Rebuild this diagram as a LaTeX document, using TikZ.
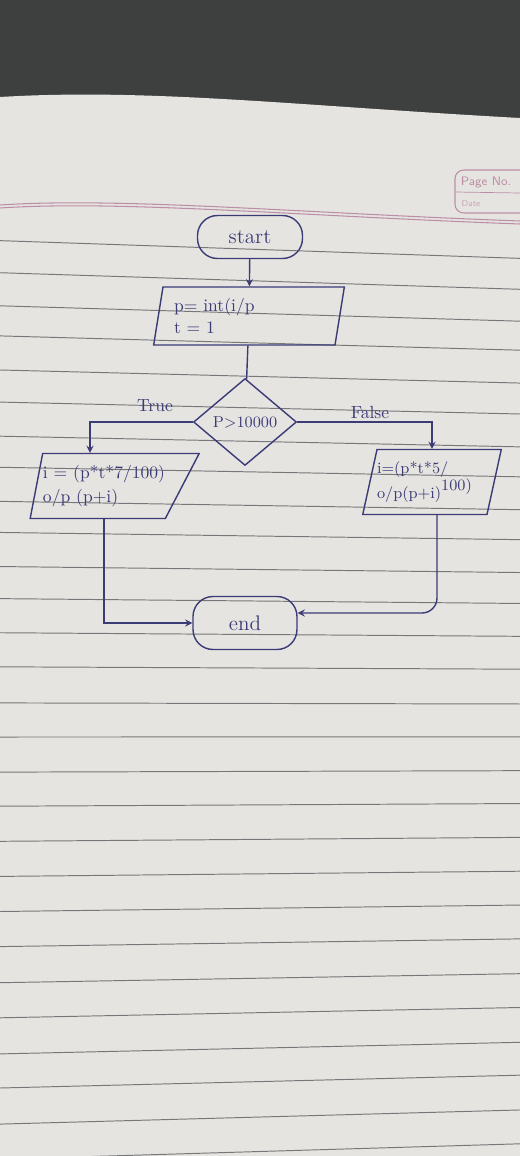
\documentclass[tikz,border=0pt]{standalone}
\usepackage{fontspec}
\usetikzlibrary{shapes.geometric,arrows}

\definecolor{ink}{HTML}{3B3B76}
\definecolor{paper}{HTML}{E6E4E1}
\definecolor{desk}{HTML}{3E4040}
\definecolor{ruling}{HTML}{77777A}
\definecolor{margin}{HTML}{BC8EA6}

\begin{document}
\begin{tikzpicture}[x=0.02cm, y=-0.02cm]

\useasboundingbox (0,0) rectangle (520,1156);

% the page
\fill[desk] (0,0) rectangle (520,1156);
\fill[paper] (0,97) .. controls (150,88) and (300,106) .. (520,118) -- (520,1156) -- (0,1156) -- cycle;

\foreach \l in {242, 274, 307, 337, 371, 403, 437, 468, 502, 533, 567, 599, 633, 667, 703, 737, 772, 806, 841, 876, 911, 946, 982, 1017, 1053, 1087, 1123, 1158}{
  \pgfmathsetmacro\s{15-(\l-242)*0.0306}
  \draw[ruling, line width=0.55pt] (0,{\l-\s*0.091}) -- (520,{\l+\s*1.091});
}

\draw[margin, line width=0.6pt] (0,205) .. controls (120,197) and (300,213) .. (520,221);
\draw[margin, line width=0.6pt] (0,208) .. controls (120,200) and (300,216) .. (520,224);

\draw[margin, line width=0.6pt, rounded corners=5pt] (540,170) -| (455,213) -- (540,213);
\draw[margin, line width=0.4pt] (455,192) -- (520,193);
\node (pg) [text=margin, font=\sffamily\scriptsize] at (486,182) {Page No.};
\node (dt) [text=margin!80, font=\sffamily\tiny] at (471,203) {Date};

% definitions
\tikzstyle{terminal} = [rectangle, rounded corners=0.4cm, minimum width=2.1cm, minimum height=0.86cm, text centered, draw=ink, text=ink, thick, font=\large]

\tikzstyle{io} = [trapezium, trapezium stretches=true, inner xsep=0pt, draw=ink, text=ink, thick, align=left]

\tikzstyle{decision} = [diamond, aspect=1.2, minimum width=2.06cm, minimum height=1.74cm, inner sep=1pt, draw=ink, text=ink, thick, font=\small]

\tikzstyle{branch} = [text=ink]

\tikzstyle{arrow} = [->,>=stealth, draw=ink, thick]

\tikzstyle{wire} = [draw=ink, thick]

% the graph
\node (b0) [terminal] at (250,237) {start};

\node (b1) [io, trapezium left angle=80, trapezium right angle=100, minimum width=3.84cm, minimum height=1.16cm, text width=3cm] at (249,316) {p= int(i/p\\t = 1};

\node (b2) [decision] at (245,422) {P>10000};

\node (b3) [io, trapezium left angle=77, trapezium right angle=122, minimum width=3.4cm, minimum height=1.3cm] at (104,486) {i = (p*t*7/100)\\[2pt]o/p (p+i)};

\node (b4) [io, trapezium left angle=75, trapezium right angle=105, minimum width=2.6cm, minimum height=1.3cm, text width=2.2cm, font=\small] at (432,482) {i=(p*t*5/\\o/p(p+i)\raisebox{1.2ex}{100)}};

\node (b5) [terminal, minimum width=2.08cm, minimum height=1.06cm] at (245,623) {end};

\node (t0) [branch] at (155,406) {True};

\node (f0) [branch] at (370,412) {False};


\draw [arrow] (b2.west) -| ([xshift=-0.28cm]b3.north);
\draw [arrow] (b0) -- (b1);
\draw [wire] (b1) -- (b2);
\draw [arrow] (b2.east) -| (b4.north);
\draw [arrow] (b3.south) |- (b5.west);
\draw [arrow, rounded corners=0.3cm] ([xshift=0.1cm]b4.south) |- ([yshift=0.2cm]b5.east);

\end{tikzpicture}
\end{document}
